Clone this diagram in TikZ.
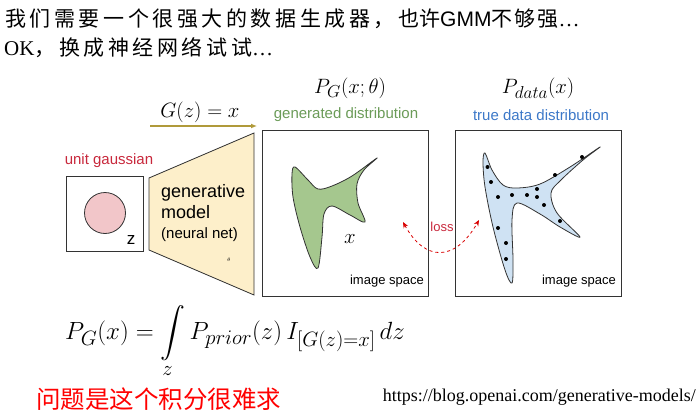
\documentclass[tikz,border=0pt]{standalone}
\usepackage{amsmath}
\usepackage{fontspec}
\setmainfont{Liberation Serif}
\setsansfont{Liberation Sans}
\newfontfamily\cjk{Noto Sans CJK SC}
\newfontfamily\cjkmid[LetterSpace=17]{Noto Sans CJK SC}
\newfontfamily\cjksl[LetterSpace=10]{Noto Sans CJK SC}
\DeclareMathSizes{25}{25}{20}{15}
\DeclareMathSizes{22}{22}{17}{13}
\usetikzlibrary{arrows.meta}
\definecolor{lblred}{HTML}{C8283C}
\definecolor{gtext}{HTML}{6B9B58}
\definecolor{gfill}{HTML}{A5C78E}
\definecolor{btext}{HTML}{3C78C8}
\definecolor{bfill}{HTML}{CFE2F3}
\definecolor{pinkc}{HTML}{F2C6C9}
\definecolor{yfill}{HTML}{FDEFCA}
\definecolor{olive}{HTML}{B09A3A}
\definecolor{edge}{HTML}{333333}
\tikzset{
  sq/.style={draw=edge, line width=0.8pt, inner sep=0pt},
  lbl/.style={font=\sffamily\fontsize{15}{17}\selectfont, inner sep=0pt},
  small/.style={font=\sffamily\fontsize{13}{15}\selectfont, inner sep=0pt},
  mth/.style={font=\fontsize{22}{24}\selectfont, inner sep=0pt},
  dot/.style={circle, fill=black, inner sep=0pt, minimum size=4pt},
}
\begin{document}
\begin{tikzpicture}[x=1pt,y=-1pt]
\useasboundingbox (0,0) rectangle (700,417);
% title lines
\node[anchor=west, inner sep=0pt, font=\cjkmid\fontsize{21}{24}\selectfont] (t1a) at (5,19)
  {我们需要一个很强大的数据生成器，};
\node[anchor=west, inner sep=0pt, font=\fontsize{21}{24}\selectfont] (t1b) at (398,19)
  {{\cjk 也许}\sffamily GMM{\cjksl 不够强}\rmfamily\ldots};
\node[anchor=west, inner sep=0pt, font=\fontsize{21}{24}\selectfont] (t2) at (4,48)
  {OK{\cjkmid ，换成神经网络试试}\ldots};
% G(z)=x arrow
\node[mth] (gz) at (200,112) {$G(z)=x$};
\coordinate (ga) at (150,126);
\coordinate (gb) at (257,126);
\draw[olive, line width=1.2pt, -{Latex[length=6pt,width=5pt]}] (ga) -- (gb);
% unit gaussian
\node[lbl, text=lblred] (ug) at (109,161) {unit gaussian};
\node[sq, minimum width=77pt, minimum height=75pt] (zbox) at (104.5,213.5) {};
\node[circle, draw=edge, line width=0.8pt, fill=pinkc, minimum size=41pt, inner sep=0pt] (circ) at (105,213) {};
\node[font=\sffamily\fontsize{17}{18}\selectfont, inner sep=0pt] (zl) at (131,240) {z};
% generative model trapezoid
\draw[draw=edge, line width=0.8pt, fill=yfill] (149,178) -- (254,133) -- (254,295) -- (149,250) -- cycle;
\node[anchor=north west, align=left, inner sep=0pt, font=\sffamily\fontsize{18}{21}\selectfont] (gm) at (161,184)
  {generative\\model};
\node[anchor=west, inner sep=0pt, font=\sffamily\fontsize{15}{16}\selectfont] (nn) at (161,235) {(neural net)};
\node[inner sep=0pt, font=\fontsize{5}{5}\selectfont] (th) at (229,260) {$\theta$};
% P_G box
\node[mth] (pg) at (350,88) {$P_G(x;\theta)$};
\node[lbl, text=gtext] (gd) at (346,115) {generated distribution};
\node[sq, minimum width=166pt, minimum height=166pt] (gbox) at (345,213.5) {};
\node[small, anchor=south east] (is1) at (424,287) {image space};
\filldraw[draw=edge, line width=0.8pt, fill=gfill] plot[smooth cycle, tension=0.55] coordinates {
 (295,167) (308,180) (318,189) (332,186) (352,176) (377,158)
 (364,170) (357,184) (358,203) (365,222)
 (350,215) (332,206) (324,214) (322,237) (318,268)
 (310,257) (300,227) (293,197) (292,174)};
\node[font=\fontsize{20}{22}\selectfont, inner sep=0pt] (xl) at (350,239) {$x$};
% P_data box
\node[mth] (pd) at (538,88) {$P_{data}(x)$};
\node[lbl, text=btext] (td) at (541,115) {true data distribution};
\node[sq, minimum width=166pt, minimum height=166pt] (dbox) at (538,213.5) {};
\node[small, anchor=south east] (is2) at (616,287) {image space};
\filldraw[draw=edge, line width=0.8pt, fill=bfill] plot[smooth cycle, tension=0.55] coordinates {
 (485,153) (492,170) (503,185) (517,188) (540,184) (570,167) (600,147)
 (583,160) (561,180) (551,193) (557,213) (580,237)
 (560,227) (540,214) (517,203) (512,220) (513,260) (512,283)
 (505,270) (493,227) (485,187) (483,162)};
\foreach \p [count=\i] in {(487.5,167),(491,182),(498,197),(512,195),(527,195),(537,189),(537,197),(544,205),(560,221),(498,228),(506,243),(506,259),(555,175),(582,157)}
  \node[dot] (d\i) at \p {};
% loss
\coordinate (la) at (403,222);
\coordinate (lb) at (479,220);
\draw[red!85!black, dashed, line width=0.8pt, {Stealth[length=6pt,width=5pt]}-{Stealth[length=6pt,width=5pt]}] (la) .. controls (425,262) and (455,262) .. (lb);
\node[small, text=lblred] (loss) at (442,227) {loss};
% formula
\node[anchor=west, inner sep=0pt, font=\fontsize{25}{28}\selectfont] (fm) at (65,342)
  {$\displaystyle P_G(x)=\int\limits_z P_{prior}(z)\,I_{[G(z)=x]}\,dz$};
% bottom
\node[anchor=west, inner sep=0pt, text=red, font=\cjk\fontsize{24.5}{26}\selectfont] (pr) at (36,399) {问题是这个积分很难求};
\node[anchor=east, inner sep=0pt, font=\fontsize{18}{20}\selectfont] (url) at (696,397) {https://blog.openai.com/generative-models/};
\end{tikzpicture}
\end{document}
